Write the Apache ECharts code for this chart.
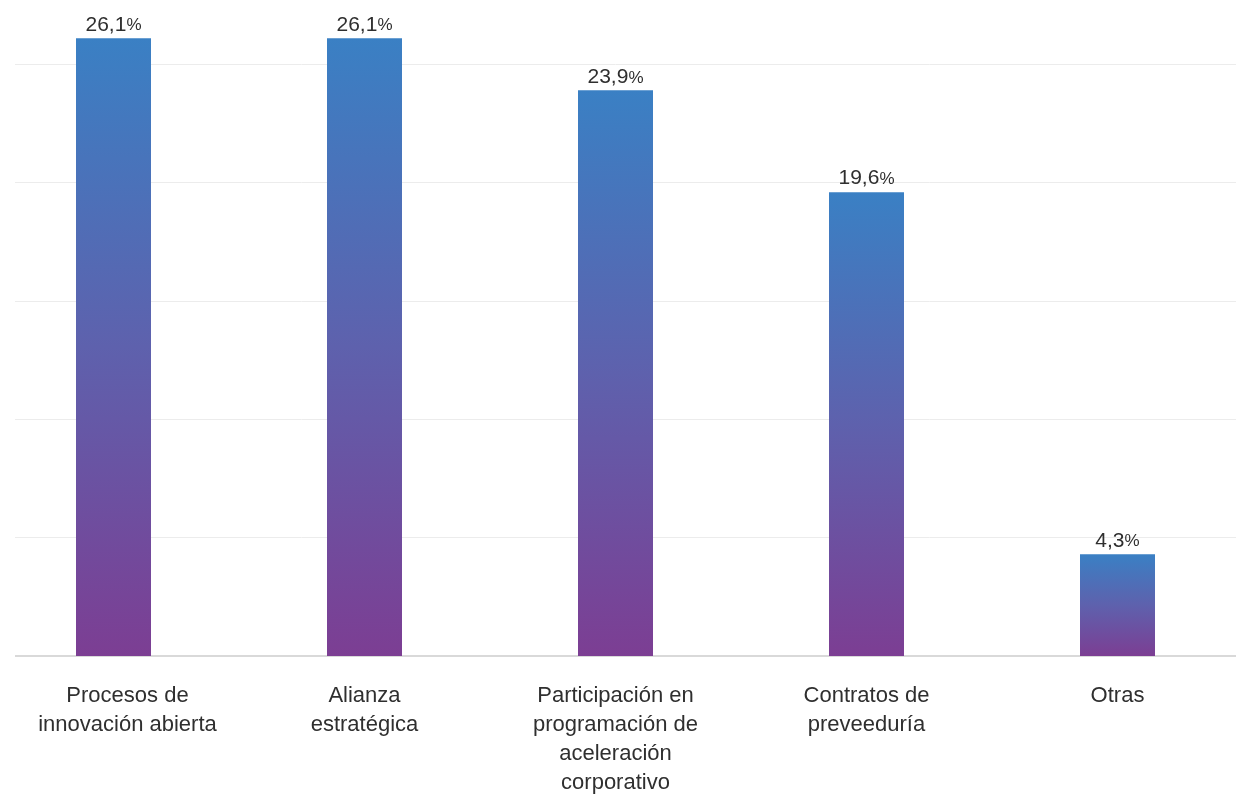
<!DOCTYPE html>
<html>
<head>
<meta charset="utf-8">
<script src="https://cdn.jsdelivr.net/npm/echarts@6/dist/echarts.min.js"></script>
<style>html,body{margin:0;padding:0;background:#fff;overflow:hidden}#c{width:1255px;height:800px;margin-left:-12px}</style>
</head>
<body>
<div id="c"></div>
<script>
const categories = [
  "Procesos de\ninnovación abierta",
  "Alianza\nestratégica",
  "Participación en\nprogramación de\naceleración\ncorporativo",
  "Contratos de\npreveeduría",
  "Otras"
];
const values = [26.1, 26.1, 23.9, 19.6, 4.3];

const catData = categories.map((c, i) => i === 0 ? { value: c, textStyle: { padding: [0, 0, 0, 28] } } : c);

const chart = echarts.init(document.getElementById('c'));
chart.setOption({
  animation: false,
  grid: { left: 0, right: 0, top: 17, bottom: 144, containLabel: false },
  graphic: [{
    type: 'rect', left: 0, top: 0, z: 100,
    shape: { x: 0, y: 0, width: 27, height: 670 },
    style: { fill: '#fff' }
  }],
  xAxis: {
    type: 'category',
    data: catData,
    axisTick: { show: false },
    axisLine: { lineStyle: { color: '#d9d9d9', width: 2 } },
    axisLabel: {
      interval: 0,
      margin: 25,
      fontFamily: 'Liberation Sans, Arial, sans-serif',
      fontSize: 22,
      lineHeight: 29,
      color: '#2f2f2f'
    }
  },
  yAxis: {
    type: 'value',
    min: 0, max: 27, interval: 5,
    axisLabel: { show: false },
    axisLine: { show: false },
    axisTick: { show: false },
    splitLine: { showMaxLine: false, lineStyle: { color: '#ececec', width: 1 } }
  },
  series: [{
    type: 'bar',
    data: values,
    barWidth: 75,
    z: 5,
    itemStyle: {
      color: new echarts.graphic.LinearGradient(0, 0, 0, 1, [
        { offset: 0, color: '#3a80c4' },
        { offset: 0.5, color: '#5e61ad' },
        { offset: 1, color: '#7c3e93' }
      ])
    },
    label: {
      show: true,
      position: 'top',
      distance: 3,
      formatter: p => '{n|' + p.value.toFixed(1).replace('.', ',') + '}{p|%}',
      rich: {
        n: { fontFamily: 'Liberation Sans, Arial, sans-serif', fontSize: 21, color: '#2f2f2f' },
        p: { fontFamily: 'Liberation Sans, Arial, sans-serif', fontSize: 17, color: '#2f2f2f', padding: [2, 0, 0, 0] }
      }
    }
  }]
});
</script>
</body>
</html>
